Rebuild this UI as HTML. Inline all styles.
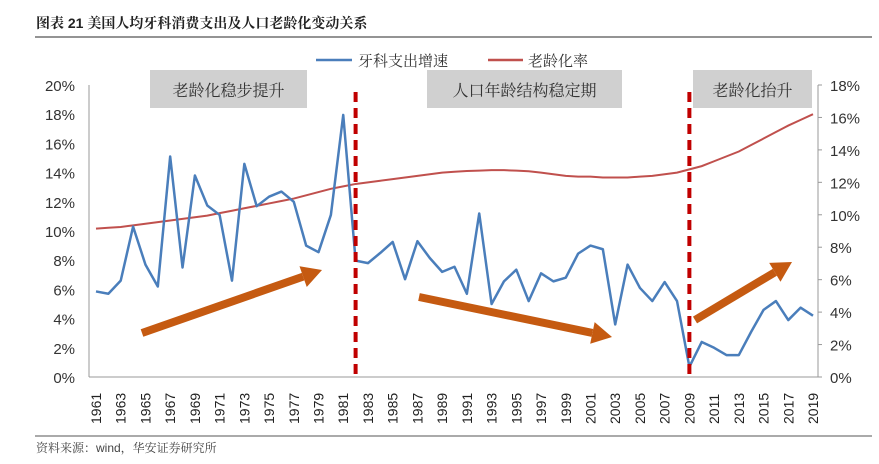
<!DOCTYPE html>
<html><head><meta charset="utf-8">
<style>
body{margin:0;background:#fff;width:879px;height:459px;overflow:hidden;font-family:"Liberation Sans","Noto Serif CJK SC",serif;}
svg text{font-family:"Liberation Sans","Noto Serif CJK SC",serif;}
</style></head>
<body>
<svg id="c" width="879" height="459" xmlns="http://www.w3.org/2000/svg">
<text x="36" y="28" font-size="14" font-weight="bold" fill="#222">图表 21 美国人均牙科消费支出及人口老龄化变动关系</text>
<line x1="35" y1="37" x2="872" y2="37" stroke="#555" stroke-width="1.2"/>
<g>
<line x1="316" y1="60" x2="352" y2="60" stroke="#4a7ebb" stroke-width="2.5"/>
<text x="358" y="66" font-size="15" fill="#333">牙科支出增速</text>
<line x1="488" y1="60" x2="523" y2="60" stroke="#c0504d" stroke-width="2.5"/>
<text x="528" y="66" font-size="15" fill="#333">老龄化率</text>
</g>
<g>
<rect x="150" y="70" width="157" height="38" fill="#d0d0d0"/>
<text x="228.5" y="96" font-size="16" text-anchor="middle" fill="#333">老龄化稳步提升</text>
<rect x="427" y="70" width="195" height="38" fill="#d0d0d0"/>
<text x="524.5" y="96" font-size="16" text-anchor="middle" fill="#333">人口年龄结构稳定期</text>
<rect x="693" y="70" width="119" height="38" fill="#d0d0d0"/>
<text x="752.5" y="96" font-size="16" text-anchor="middle" fill="#333">老龄化抬升</text>
</g>
<line x1="35" y1="436" x2="872" y2="436" stroke="#777" stroke-width="1.2"/>
<text x="36" y="452" font-size="12" fill="#444">资料来源：wind，华安证券研究所</text>
</svg>
<script>
const years=[];for(let y=1961;y<=2019;y++)years.push(y);
const dentalGrowth=[5.86,5.7,6.6,10.3,7.7,6.2,15.1,7.5,13.8,11.75,11.1,6.6,14.6,11.7,12.35,12.7,12.0,9.0,8.55,11.1,17.95,7.97,7.8,8.5,9.25,6.7,9.3,8.15,7.2,7.55,5.7,11.2,5.0,6.55,7.35,5.2,7.1,6.55,6.8,8.45,9.0,8.75,3.6,7.7,6.1,5.2,6.5,5.2,0.7,2.4,2.0,1.5,1.5,3.1,4.6,5.2,3.9,4.75,4.2];
const agingRate=[9.15,9.2,9.25,9.35,9.45,9.55,9.65,9.75,9.85,9.95,10.1,10.25,10.4,10.55,10.7,10.85,11.0,11.2,11.4,11.6,11.75,11.9,12.0,12.1,12.2,12.3,12.4,12.5,12.6,12.65,12.7,12.72,12.75,12.75,12.72,12.68,12.6,12.5,12.4,12.35,12.35,12.3,12.3,12.3,12.35,12.4,12.5,12.6,12.8,13.0,13.3,13.6,13.9,14.3,14.7,15.1,15.5,15.85,16.2];
const leftTicks=[0,2,4,6,8,10,12,14,16,18,20];
const rightTicks=[0,2,4,6,8,10,12,14,16,18];
const dividerYears=[1982,2009];
const NS='http://www.w3.org/2000/svg';
const svg=document.getElementById('c');
const X0=89,X1=818,Y0=377,Y1=85;
const x=y=>96+(y-1961)*(813-96)/58;
const yl=v=>Y0-(v/20)*(Y0-Y1);
const yr=v=>Y0-(v/18)*(Y0-Y1);
function mk(tag,attrs,parent){const e=document.createElementNS(NS,tag);for(const k in attrs)e.setAttribute(k,attrs[k]);(parent||svg).appendChild(e);return e;}
let a=mk('line',{x1:X0,y1:Y1,x2:X0,y2:Y0,stroke:'#999','stroke-width':1});


a=mk('line',{x1:X1,y1:Y1,x2:X1,y2:Y0,stroke:'#999','stroke-width':1});


a=mk('line',{x1:X0,y1:Y0,x2:X1,y2:Y0,stroke:'#999','stroke-width':1});


leftTicks.forEach(v=>{const t=mk('text',{x:75,y:yl(v)+6,'font-size':15,'text-anchor':'end',fill:'#333'});t.textContent=v+'%';

});
rightTicks.forEach(v=>{const l=mk('line',{x1:X1,y1:yr(v),x2:X1+4,y2:yr(v),stroke:'#999'});


const t=mk('text',{x:830,y:yr(v)+6,'font-size':15,fill:'#333'});t.textContent=v+'%';

});
years.forEach(yv=>{if((yv-1961)%2)return;const t=mk('text',{transform:`translate(${x(yv)+5},424) rotate(-90)`,'font-size':14,fill:'#222'});t.textContent=yv;

});
let p=mk('polyline',{points:years.map((yv,i)=>x(yv)+','+yr(agingRate[i])).join(' '),fill:'none',stroke:'#c0504d','stroke-width':2});


p=mk('polyline',{points:years.map((yv,i)=>x(yv)+','+yl(dentalGrowth[i])).join(' '),fill:'none',stroke:'#4a7ebb','stroke-width':2.5,'stroke-linejoin':'round'});


dividerYears.forEach(yv=>{const l=mk('line',{x1:x(yv),y1:92,x2:x(yv),y2:Y0,stroke:'#c00000','stroke-width':4,'stroke-dasharray':'10,6'});

});
function arrow(x1,y1,x2,y2,name){const g=mk('g',{});


const dx=x2-x1,dy=y2-y1,L=Math.hypot(dx,dy),ux=dx/L,uy=dy/L,nx=-uy,ny=ux,h=20,w=11;
const bx=x2-ux*h,by=y2-uy*h;
mk('line',{x1:x1,y1:y1,x2:bx,y2:by,stroke:'#c55a11','stroke-width':8},g);
mk('polygon',{points:`${x2},${y2} ${bx+nx*w},${by+ny*w} ${bx-nx*w},${by-ny*w}`,fill:'#c55a11'},g);}
arrow(142,333,322,270,'trend-arrow-up-1');
arrow(419,297,612,337,'trend-arrow-down');
arrow(695,320,792,262,'trend-arrow-up-2');
</script>
</body></html>
